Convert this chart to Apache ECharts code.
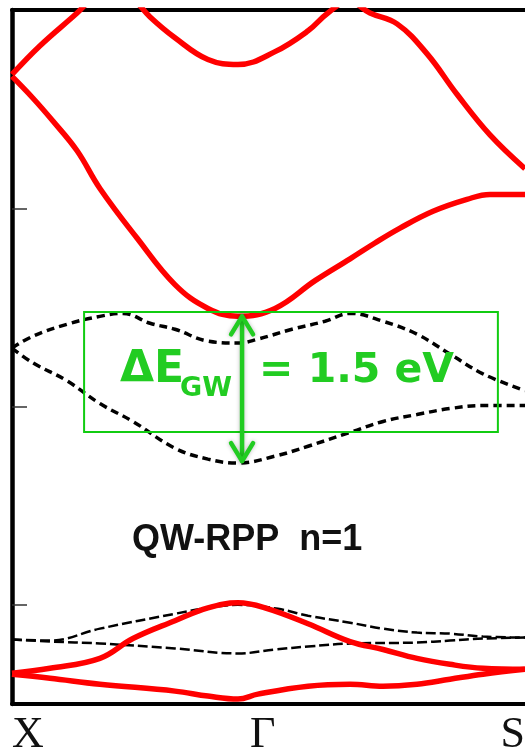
<!DOCTYPE html>
<html><head><meta charset="utf-8">
<script src="https://cdn.jsdelivr.net/npm/echarts@6/dist/echarts.min.js"></script>
<style>html,body{margin:0;padding:0;background:#fff}#c{width:525px;height:751px}</style>
</head><body><div id="c"></div>
<script>
// k-path positions of the high-symmetry points and their labels
const kTicks = [0, 1, 2.27];
const kLabels = ['X', 'Γ', 'S'];
// energy ticks (eV)
const yTicks = [-2, 0, 2];

// GW conduction bands (red, solid) [k, E]
const cb1 = [[0,3.33],[0.093,3.11],[0.181,2.88],[0.288,2.58],[0.389,2.20],[0.553,1.70],[0.721,1.23],[0.867,0.99],[1.0,0.91],[1.164,0.99],[1.341,1.27],[1.496,1.49],[1.606,1.65],[1.717,1.80],[1.863,1.97],[2.013,2.09],[2.115,2.14],[2.27,2.14]];
const cb2 = [[0,3.35],[0.124,3.64],[0.288,3.97],[0.367,4.14],[0.442,4.21],[0.522,4.14],[0.611,3.93],[0.721,3.72],[0.867,3.50],[1.0,3.45],[1.164,3.58],[1.310,3.79],[1.398,3.97],[1.49,4.09],[1.584,3.97],[1.704,3.86],[1.836,3.56],[1.969,3.15],[2.115,2.74],[2.27,2.40]];
// deep bands (red, solid)
const cb3 = [[0,-2.69],[0.168,-2.64],[0.389,-2.54],[0.535,-2.34],[0.721,-2.16],[0.867,-2.03],[1.0,-1.98],[1.119,-2.03],[1.310,-2.19],[1.496,-2.37],[1.642,-2.45],[1.792,-2.54],[1.938,-2.60],[2.084,-2.64],[2.27,-2.65]];
const cb4 = [[0,-2.70],[0.168,-2.74],[0.389,-2.80],[0.721,-2.87],[0.867,-2.92],[1.0,-2.95],[1.088,-2.90],[1.310,-2.82],[1.496,-2.80],[1.642,-2.82],[1.792,-2.80],[1.938,-2.75],[2.084,-2.70],[2.27,-2.65]];
// bands near the gap (black, dashed)
const vb1 = [[0,0.59],[0.093,0.71],[0.243,0.83],[0.389,0.91],[0.491,0.94],[0.611,0.84],[0.721,0.78],[0.867,0.66],[1.0,0.64],[1.088,0.68],[1.239,0.78],[1.385,0.86],[1.496,0.94],[1.642,0.86],[1.792,0.73],[1.938,0.53],[2.084,0.33],[2.27,0.16]];
const vb2 = [[0,0.59],[0.093,0.44],[0.243,0.26],[0.389,0.03],[0.535,-0.15],[0.721,-0.42],[0.867,-0.53],[1.0,-0.57],[1.164,-0.50],[1.310,-0.40],[1.496,-0.26],[1.642,-0.15],[1.792,-0.08],[1.938,-0.02],[2.084,0.01],[2.27,0.01]];
// lower dashed bands
const vb3 = [[0,-2.35],[0.168,-2.36],[0.389,-2.24],[0.721,-2.09],[0.867,-2.03],[1.0,-2.00],[1.177,-2.04],[1.310,-2.11],[1.496,-2.18],[1.642,-2.24],[1.792,-2.28],[1.938,-2.29],[2.084,-2.32],[2.27,-2.33]];
const vb4 = [[0,-2.35],[0.168,-2.37],[0.389,-2.39],[0.721,-2.44],[1.0,-2.49],[1.164,-2.45],[1.310,-2.42],[1.496,-2.39],[1.792,-2.38],[1.938,-2.36],[2.084,-2.34],[2.27,-2.33]];

// gap annotation
const boxK = [0.319, 2.150];
const boxE = [0.954, -0.256];
const arrowK = 1.018;
const arrowE = [0.93, -0.57];

const chart = echarts.init(document.getElementById('c'), null, {renderer: 'canvas'});

function red(data) {
  return {type: 'line', data: data, smooth: 0.4, showSymbol: false, symbol: 'none', clip: true,
    lineStyle: {color: '#ff0000', width: 5.5}, z: 3};
}
function dash(data, w, pat) {
  return {type: 'line', data: data, smooth: 0.4, showSymbol: false, symbol: 'none', clip: true,
    lineStyle: {color: '#000', width: w, type: pat}, z: 2};
}

chart.setOption({
  animation: false,
  backgroundColor: '#fff',
  grid: {left: 12, top: 10, right: 0, height: 694, show: false},
  xAxis: [
    {type: 'value', min: 0, max: 2.27, position: 'bottom',
     axisLine: {show: true, onZero: false, lineStyle: {color: '#000', width: 4}},
     axisTick: {show: false}, axisLabel: {show: false}, splitLine: {show: false}},
    {type: 'value', min: 0, max: 2.27, position: 'top',
     axisLine: {show: true, onZero: false, lineStyle: {color: '#000', width: 4}},
     axisTick: {show: false}, axisLabel: {show: false}, splitLine: {show: false}}
  ],
  yAxis: {type: 'value', min: -3, max: 4, position: 'left',
    axisLine: {show: true, onZero: false, lineStyle: {color: '#000', width: 4.5}},
    axisTick: {show: true, inside: true, length: 15, customValues: yTicks, lineStyle: {color: '#333', width: 1.5}},
    axisLabel: {show: false}, splitLine: {show: false}},
  series: [
    dash(vb1, 3.5, [8, 5]), dash(vb2, 3.5, [8, 5]),
    dash(vb3, 2.5, [10, 4]), dash(vb4, 2.5, [10, 4]),
    red(cb1), red(cb2), red(cb3), red(cb4)
  ]
});

const P = (k, e) => chart.convertToPixel({gridIndex: 0}, [k, e]);
const green = '#22cc22';
const g = [];
const b0 = P(boxK[0], boxE[0]), b1 = P(boxK[1], boxE[1]);
g.push({type: 'rect', shape: {x: b0[0], y: b0[1], width: b1[0] - b0[0], height: b1[1] - b0[1]},
  style: {fill: null, stroke: '#11cc11', lineWidth: 2}, z: 10});
const a0 = P(arrowK, arrowE[0]), a1 = P(arrowK, arrowE[1]);
const arrowStyle = {fill: null, stroke: green, lineWidth: 4.5, lineCap: 'round', lineJoin: 'round',
  shadowBlur: 4, shadowColor: 'rgba(0,0,0,0.25)'};
g.push({type: 'polyline', shape: {points: [[a0[0], a0[1] + 2], [a1[0], a1[1] - 2]]}, style: arrowStyle, z: 11});
g.push({type: 'polyline', shape: {points: [[a0[0] - 11, a0[1] + 20], [a0[0], a0[1] + 2], [a0[0] + 11, a0[1] + 20]]}, style: arrowStyle, z: 11});
g.push({type: 'polyline', shape: {points: [[a1[0] - 11, a1[1] - 20], [a1[0], a1[1] - 2], [a1[0] + 11, a1[1] - 20]]}, style: arrowStyle, z: 11});
g.push({type: 'text', x: 120, y: 371, style: {text: 'ΔE', fill: green, font: 'bold 44px "DejaVu Sans"', align: 'left', verticalAlign: 'middle'}, z: 12});
g.push({type: 'text', x: 180, y: 389, style: {text: 'GW', fill: green, font: 'bold 27px "DejaVu Sans"', align: 'left', verticalAlign: 'middle'}, z: 12});
g.push({type: 'text', x: 259, y: 371, style: {text: '= 1.5 eV', fill: green, font: 'bold 41px "DejaVu Sans"', align: 'left', verticalAlign: 'middle'}, z: 12});
g.push({type: 'text', x: 132, y: 540, style: {text: 'QW-RPP  n=1', fill: '#111', font: 'bold 36px "Liberation Sans"', align: 'left', verticalAlign: 'middle'}, z: 12});
// high-symmetry point labels
const labAlign = ['left', 'left', 'right'];
const labDx = [0, 12, 0];
kTicks.forEach((k, i) => {
  const p = P(k, -3);
  g.push({type: 'text', x: p[0] + labDx[i], y: 735, style: {text: kLabels[i], fill: '#111', font: '44px "Liberation Serif"', align: labAlign[i], verticalAlign: 'middle'}, z: 12});
});
chart.setOption({graphic: g});
</script>
</body></html>
